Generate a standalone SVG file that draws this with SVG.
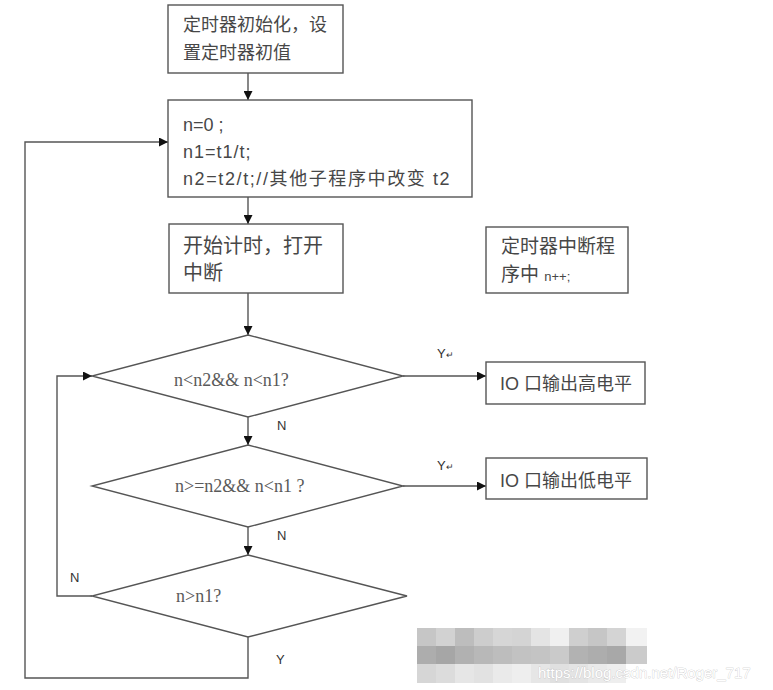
<svg xmlns="http://www.w3.org/2000/svg" width="773" height="690" viewBox="0 0 773 690">
<defs>
<marker id="arr" viewBox="0 0 10 10" refX="10" refY="5" markerWidth="9" markerHeight="9" markerUnits="userSpaceOnUse" orient="auto">
<path d="M0,0 L10,5 L0,10 z" fill="#111"/>
</marker>
</defs>
<style>
.box{fill:#fff;stroke:#555;stroke-width:1.4}
.line{fill:none;stroke:#555;stroke-width:1.4}
.cjk{font-family:"Liberation Sans","Noto Sans CJK SC",sans-serif;fill:#474747}
.ser{font-family:"Liberation Serif","Noto Sans CJK SC",serif;fill:#5a5a5a;font-size:18px}
.lab{font-family:"Liberation Sans",sans-serif;fill:#333;font-size:13px}
</style>
<rect width="773" height="690" fill="#fff"/>

<g id="connectors">
<path class="line" d="M248,73 V100" marker-end="url(#arr)"/>
<path class="line" d="M248,197 V224" marker-end="url(#arr)"/>
<path class="line" d="M248,293 V335" marker-end="url(#arr)"/>
<path class="line" d="M248,417 V445" marker-end="url(#arr)"/>
<path class="line" d="M248,527 V555" marker-end="url(#arr)"/>
<path class="line" d="M403,376 H486" marker-end="url(#arr)"/>
<path class="line" d="M403,486 H486" marker-end="url(#arr)"/>
<path class="line" d="M92,596 H57 V376 H92" marker-end="url(#arr)"/>
<path class="line" d="M248,637 V678 H25 V142 H168" marker-end="url(#arr)"/>
<text class="lab" x="437" y="358">Y<tspan font-size="9">↵</tspan></text>
<text class="lab" x="437" y="470">Y<tspan font-size="9">↵</tspan></text>
<text class="lab" x="277" y="430">N</text>
<text class="lab" x="277" y="540">N</text>
<text class="lab" x="70" y="582">N</text>
<text class="lab" x="276" y="664">Y</text>
</g>

<g id="init">
<rect class="box" x="168" y="5" width="175" height="68"/>
<text class="cjk" font-size="18" x="183" y="31">定时器初始化，设</text>
<text class="cjk" font-size="18" x="183" y="59">置定时器初值</text>
</g>

<g id="vars">
<rect class="box" x="168" y="100" width="304" height="97"/>
<text class="cjk" font-size="18" x="183" y="131">n=0 ;</text>
<text class="cjk" font-size="18" x="183" y="158" letter-spacing="1">n1=t1/t;</text>
<text class="cjk" font-size="18" x="183" y="185" letter-spacing="1.6">n2=t2/t;//其他子程序中改变 t2</text>
</g>

<g id="start">
<rect class="box" x="169" y="224" width="174" height="69"/>
<text class="cjk" font-size="20" x="183" y="253">开始计时，打开</text>
<text class="cjk" font-size="20" x="183" y="280">中断</text>
</g>

<g id="isr">
<rect class="box" x="486" y="227" width="142" height="66"/>
<text class="cjk" font-size="19" x="501" y="253">定时器中断程</text>
<text class="cjk" font-size="19" x="501" y="281">序中 <tspan font-size="13">n++;</tspan></text>
</g>

<g id="cond1">
<polygon class="box" points="248,335 403,376 248,417 92,376"/>
<text class="ser" x="174" y="386">n&lt;n2&amp;&amp; n&lt;n1?</text>
</g>

<g id="high">
<rect class="box" x="486" y="362" width="159" height="42"/>
<text class="cjk" font-size="18" x="500" y="390">IO 口输出高电平</text>
</g>

<g id="cond2">
<polygon class="box" points="248,445 403,486 248,527 92,486"/>
<text class="ser" x="175" y="492">n&gt;=n2&amp;&amp; n&lt;n1 ?</text>
</g>

<g id="low">
<rect class="box" x="486" y="458" width="161" height="41"/>
<text class="cjk" font-size="18" x="500" y="487">IO 口输出低电平</text>
</g>

<g id="cond3">
<polygon class="box" points="248,555 407,596 248,637 92,596"/>
<text class="ser" x="176" y="602">n&gt;n1?</text>
</g>

<g id="watermark">
<g>
<rect x="417" y="628" width="19" height="18" fill="#c6c6c6"/>
<rect x="436" y="628" width="19" height="18" fill="#d2d2d2"/>
<rect x="455" y="628" width="19" height="18" fill="#bdbdbd"/>
<rect x="474" y="628" width="19" height="18" fill="#cdcdcd"/>
<rect x="493" y="628" width="19" height="18" fill="#d6d6d6"/>
<rect x="512" y="628" width="19" height="18" fill="#d4d4d4"/>
<rect x="531" y="628" width="19" height="18" fill="#e4e4e4"/>
<rect x="550" y="628" width="19" height="18" fill="#f0f0f0"/>
<rect x="569" y="628" width="19" height="18" fill="#cfcfcf"/>
<rect x="588" y="628" width="19" height="18" fill="#c6c6c6"/>
<rect x="607" y="628" width="19" height="18" fill="#d4d4d4"/>
<rect x="626" y="628" width="21" height="18" fill="#f2f2f2"/>
<rect x="417" y="646" width="19" height="18" fill="#adadad"/>
<rect x="436" y="646" width="19" height="18" fill="#a6a6a6"/>
<rect x="455" y="646" width="19" height="18" fill="#b1b1b1"/>
<rect x="474" y="646" width="19" height="18" fill="#b8b8b8"/>
<rect x="493" y="646" width="19" height="18" fill="#bdbdbd"/>
<rect x="512" y="646" width="19" height="18" fill="#c2c2c2"/>
<rect x="531" y="646" width="19" height="18" fill="#c4c4c4"/>
<rect x="550" y="646" width="19" height="18" fill="#cacaca"/>
<rect x="569" y="646" width="19" height="18" fill="#b2b2b2"/>
<rect x="588" y="646" width="19" height="18" fill="#adadad"/>
<rect x="607" y="646" width="19" height="18" fill="#a8a8a8"/>
<rect x="626" y="646" width="21" height="18" fill="#cbcbcb"/>
<rect x="417" y="664" width="19" height="19" fill="#d6d6d6"/>
<rect x="436" y="664" width="19" height="19" fill="#dcdcdc"/>
<rect x="455" y="664" width="19" height="19" fill="#e6e6e6"/>
<rect x="474" y="664" width="19" height="19" fill="#e2e2e2"/>
<rect x="493" y="664" width="19" height="19" fill="#eaeaea"/>
<rect x="512" y="664" width="19" height="19" fill="#eeeeee"/>
<rect x="531" y="664" width="19" height="19" fill="#e6e6e6"/>
<rect x="550" y="664" width="19" height="19" fill="#e0e0e0"/>
<rect x="569" y="664" width="19" height="19" fill="#e4e4e4"/>
<rect x="588" y="664" width="19" height="19" fill="#eaeaea"/>
<rect x="607" y="664" width="19" height="19" fill="#eeeeee"/>
</g>
<text x="538" y="678" font-family="Liberation Sans, sans-serif" font-size="15" fill="#fff" stroke="#b8b8b8" stroke-width="0.5" paint-order="stroke">https://blog.csdn.net/Roger_717</text>
</g>
</svg>
